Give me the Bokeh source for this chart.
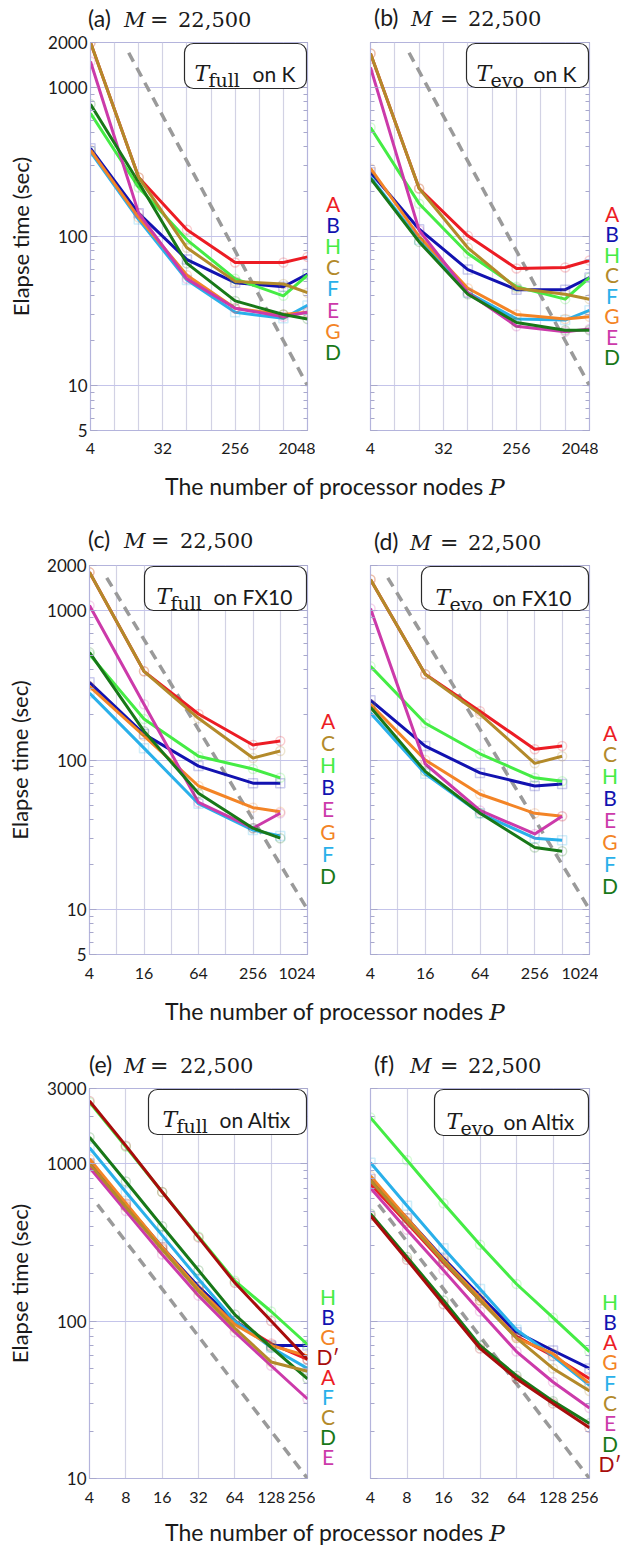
from bokeh.plotting import figure
from bokeh.models import (Range1d, FixedTicker, LogAxis, Label, BoxAnnotation, Div,
                          PrintfTickFormatter, CustomLabelingPolicy)
from bokeh.layouts import column, row
from bokeh.embed import file_html
from bokeh.resources import INLINE

# ---------------- data ----------------
P_K = [4, 16, 64, 256, 1024, 2048]
P_FX10 = [4, 16, 64, 256, 512]
P_ALTIX = [4, 8, 16, 32, 64, 128, 256]

# (a) T_full on K
a_A = [2000, 249, 111, 67, 67, 73]
a_B = [390, 143, 70, 49, 46, 56]
a_C = [2000, 249, 84, 50, 48, 42]
a_D = [770, 230, 66, 37, 30, 28]
a_E = [1490, 143, 52, 33, 29, 31]
a_F = [370, 130, 51, 31, 28.3, 34.5]
a_G = [380, 134, 55, 33, 30, 31]
a_H = [670, 213, 95, 52, 40, 55]

# (b) T_evo on K
b_A = [1690, 210, 101, 61, 62, 69]
b_B = [270, 112, 60, 44, 44, 53]
b_C = [1690, 210, 84, 45, 41, 38]
b_D = [245, 92, 41, 26.5, 23.5, 23.5]
b_E = [1360, 110, 42, 25, 23, 24]
b_F = [250, 95, 42, 28, 27.5, 32]
b_G = [286, 100, 45, 30, 28, 29]
b_H = [538, 166, 77, 46, 38, 53]

# (c) T_full on FX10
c_A = [1800, 392, 203, 126, 134]
c_B = [331, 149, 91, 70, 70]
c_C = [1800, 392, 190, 103, 115]
c_D = [525, 156, 60, 35, 30]
c_E = [1080, 236, 52, 35, 44]
c_F = [280, 120, 51, 34, 31]
c_G = [311, 145, 67, 48, 45]
c_H = [509, 188, 106, 87, 76]

# (d) T_evo on FX10
d_A = [1610, 374, 212, 118, 124]
d_B = [251, 124, 82, 67, 69]
d_C = [1610, 374, 203, 95, 106]
d_D = [225, 84, 44, 26, 24.5]
d_E = [1030, 94, 46, 32, 42]
d_F = [206, 81, 44, 30, 29]
d_G = [236, 100, 59, 44, 42]
d_H = [423, 176, 110, 76, 72]

# (e) T_full on Altix
e_A = [1000, 540, 290, 165, 100, 72, 57]
e_B = [1000, 550, 295, 165, 100, 70, 70]
e_C = [1000, 530, 285, 155, 90, 55, 48]
e_D = [1470, 770, 400, 210, 110, 68, 43]
e_E = [945, 500, 265, 145, 85, 52, 32]
e_F = [1260, 660, 350, 185, 100, 68, 50]
e_G = [1070, 560, 295, 160, 95, 70, 60]
e_H = [2450, 1280, 660, 345, 180, 115, 71]
e_Dp = [2500, 1300, 660, 340, 175, 100, 57]

# (f) T_evo on Altix
f_A = [740, 420, 235, 135, 80, 60, 43]
f_B = [800, 450, 250, 145, 85, 65, 50]
f_C = [780, 430, 240, 135, 78, 50, 36]
f_D = [480, 255, 135, 70, 45, 31, 22.4]
f_E = [700, 380, 210, 115, 64, 41, 28]
f_F = [1014, 540, 290, 160, 88, 60, 39]
f_G = [835, 450, 245, 140, 78, 62, 40]
f_H = [1960, 1050, 560, 305, 172, 105, 64]
f_Dp = [466, 245, 128, 67, 43, 30, 21]

# ideal-scaling (dashed) reference lines
ideal_K_P = [12, 2048]
ideal_K_T = [1707, 10]
ideal_FX_P = [6.2, 1024]
ideal_FX_T = [1652, 10]
ideal_ALT_P = [4.66, 256]
ideal_ALT_T = [549, 10]

# tick labels
xt_K = [4, 32, 256, 2048]
xg_K = [4, 8, 16, 32, 64, 128, 256, 512, 1024, 2048]
xt_FX = [4, 16, 64, 256, 1024]
xg_FX = [4, 8, 16, 32, 64, 128, 256, 512, 1024]
xt_ALT = [4, 8, 16, 32, 64, 128, 256]
yt_KFX = [5, 10, 100, 1000, 2000]
yt_ALT = [10, 100, 1000, 3000]

# legend order (top to bottom) per panel
leg_a = ["A", "B", "H", "C", "F", "E", "G", "D"]
leg_b = ["A", "B", "H", "C", "F", "G", "E", "D"]
leg_c = ["A", "C", "H", "B", "E", "G", "F", "D"]
leg_d = ["A", "C", "H", "B", "E", "G", "F", "D"]
leg_e = ["H", "B", "G", "Dp", "A", "F", "C", "D", "E"]
leg_f = ["H", "B", "A", "G", "F", "C", "E", "D", "Dp"]

# ---------------- style ----------------
SANS = "Lato"
MATH = "DejaVu Serif"
COLORS = {"A": "#ec1c24", "B": "#1212b0", "C": "#b38a2a", "D": "#187818", "E": "#cc3aaa",
          "F": "#2ab0ea", "G": "#f38426", "H": "#45ec45", "Dp": "#a80c0c"}
MARK = {"A": "circle", "B": "square", "C": "circle", "D": "circle", "E": "circle",
        "F": "square", "G": "circle", "H": "circle", "Dp": "circle"}
NAMES = {"Dp": "D\u2032"}
FRAME = "#b4b4dc"
GRID_V = "#d2d2e4"
GRID_H = "#c4c4ea"
TICK = "#a8a8cc"
TXT = "#1a1a1a"

HIDE = CustomLabelingPolicy(code="for (const i of indices) { indices.unset(i) }\nreturn indices")


def minor_list(lo, hi):
    out = []
    dec = 1
    while dec < hi * 10:
        for k in range(2, 10):
            v = k * dec
            if lo <= v <= hi:
                out.append(v)
        dec *= 10
    return out


def add_label(p, fr, rx, ry, text, font, size, color=TXT, style="normal"):
    p.add_layout(Label(x=rx - fr[0], y=fr[3] - ry, x_units="screen", y_units="screen",
                       text=text, text_font=font, text_font_size=f"{size}px",
                       text_color=color, text_font_style=style,
                       text_align="left", text_baseline="alphabetic"))


def panel(cfg):
    fr = cfg["frame"]
    ox, oy = cfg["origin"]
    W, H = cfg["size"]
    p = figure(width=W, height=H, x_axis_type="log", y_axis_type="log",
               x_range=Range1d(*cfg["xr"]), y_range=Range1d(*cfg["yr"]),
               output_backend="svg", toolbar_location=None,
               min_border=0,
               min_border_left=fr[0] - ox, min_border_top=fr[1] - oy,
               min_border_right=ox + W - fr[2], min_border_bottom=oy + H - fr[3])
    p.outline_line_color = FRAME
    p.outline_line_width = 1.2
    p.background_fill_color = "white"
    p.border_fill_color = "white"

    # x axis
    xa = p.xaxis[0]
    xa.ticker = FixedTicker(ticks=cfg["xt"], minor_ticks=[])
    xa.formatter = PrintfTickFormatter(format="%d")
    xa.major_label_text_font = SANS
    xa.major_label_text_font_size = "16px"
    xa.major_label_text_color = TXT
    xa.axis_line_color = FRAME
    xa.major_tick_in = 0
    xa.major_tick_out = 0
    xa.minor_tick_in = 0
    xa.minor_tick_out = 0
    xa.major_label_standoff = cfg["xstandoff"]
    p.xgrid.ticker = FixedTicker(ticks=cfg["xg"])
    p.xgrid.grid_line_color = GRID_V
    p.xgrid.grid_line_width = 1.2

    # y axis
    ya = p.yaxis[0]
    ya.ticker = FixedTicker(ticks=cfg["yt"], minor_ticks=minor_list(cfg["yr"][0], cfg["yr"][1]))
    ya.formatter = PrintfTickFormatter(format="%d")
    ya.axis_line_color = FRAME
    ya.major_tick_in = 7
    ya.major_tick_out = 0
    ya.minor_tick_in = 4
    ya.minor_tick_out = 0
    ya.major_tick_line_color = TICK
    ya.minor_tick_line_color = TICK
    if cfg["ylabels"]:
        ya.major_label_text_font = SANS
        ya.major_label_text_font_size = "17px"
        ya.major_label_text_color = TXT
        ya.major_label_standoff = 3
        ya.axis_label = "Elapse time (sec)"
        ya.axis_label_text_font = SANS
        ya.axis_label_text_font_size = "22px"
        ya.axis_label_text_font_style = "normal"
        ya.axis_label_text_color = TXT
        ya.axis_label_standoff = 11
    else:
        ya.major_label_policy = HIDE
        ya.major_label_text_font_size = "1px"
        ya.major_label_standoff = 0
    p.ygrid.ticker = FixedTicker(ticks=[10, 100, 1000])
    p.ygrid.grid_line_color = GRID_H
    p.ygrid.grid_line_width = 1.2

    ra = LogAxis(ticker=FixedTicker(ticks=cfg["yt"], minor_ticks=minor_list(cfg["yr"][0], cfg["yr"][1])),
                 major_label_policy=HIDE, major_label_text_font_size="1px", major_label_standoff=0,
                 axis_line_color=None, major_tick_in=7, major_tick_out=0,
                 minor_tick_in=4, minor_tick_out=0,
                 major_tick_line_color=TICK, minor_tick_line_color=TICK)
    p.add_layout(ra, "right")

    # ideal scaling line
    p.line(cfg["ideal"][0], cfg["ideal"][1], line_color="#9a9a9a", line_width=3.5, line_dash="10 7")

    # data
    P = cfg["P"]
    for key in ["A", "B", "H", "F", "G", "E", "D", "C", "Dp"]:
        if key not in cfg["series"]:
            continue
        vals = cfg["series"][key]
        c = COLORS[key]
        p.scatter(P, vals, marker=MARK[key], size=9, fill_color=None, line_color=c,
                  line_alpha=0.22, line_width=1.5)
        p.line(P, vals, line_color=c, line_width=3, line_join="round")

    # rounded box with label (kept inside the frame)
    bx0, by0, bx1, by1 = cfg["box"]
    p.add_layout(BoxAnnotation(left=bx0 - fr[0], right=bx1 - fr[0], top=fr[3] - by0, bottom=fr[3] - by1,
                               left_units="screen", right_units="screen",
                               top_units="screen", bottom_units="screen",
                               fill_color="white", fill_alpha=1.0, line_color="#2a2a2a",
                               line_width=1.2, line_alpha=1.0, border_radius=9))
    bb = cfg["box_base"]
    t_x, s_txt, s_x, o_txt, o_x = cfg["box_text"]
    add_label(p, fr, t_x, bb, "T", MATH, 22, style="italic")
    add_label(p, fr, s_x, bb + 6, s_txt, MATH, 19)
    add_label(p, fr, o_x, bb, o_txt, SANS, 21)
    return p


def svg_div(width, height, body):
    html = (f'<svg xmlns="http://www.w3.org/2000/svg" width="{width}" height="{height}" '
            f'style="display:block;overflow:visible">{body}</svg>')
    return Div(text=html, width=width, height=height, margin=(0, 0, 0, 0))


def st(font, size, extra=""):
    return f"font-family:'{font}';font-size:{size}px;{extra}"


def title_div(height, parts):
    # parts: list of (letter, baseline, x_paren, x_M, x_eq, x_num)
    body = ""
    for letter, bl, xp, xm, xe, xn in parts:
        body += (f'<text x="{xp}" y="{bl}" fill="{TXT}" style="{st(SANS, 23)}">({letter})</text>'
                 f'<text x="{xm}" y="{bl}" fill="{TXT}" style="{st(MATH, 21, "font-style:italic;")}">M</text>'
                 f'<text x="{xe}" y="{bl}" fill="{TXT}" style="{st(MATH, 22)}">=</text>'
                 f'<text x="{xn}" y="{bl}" fill="{TXT}" style="{st(MATH, 21)}">22,500</text>')
    return svg_div(629, height, body)


def legend_div(width, height, keys, cx, y0, step):
    body = ""
    for i, key in enumerate(keys):
        yb = y0 + i * step + 7.5
        body += (f'<text x="{cx}" y="{yb:.1f}" text-anchor="middle" fill="{COLORS[key]}" '
                 f'style="{st(SANS, 21)}">{NAMES.get(key, key)}</text>')
    return svg_div(width, height, body)


def xtitle_div(height, base):
    body = (f'<text x="165" y="{base}" fill="{TXT}" style="{st(SANS, 23)}">'
            f'The number of processor nodes '
            f'<tspan style="{st(MATH, 23, "font-style:italic;")}">P</tspan></text>')
    return svg_div(629, height, body)


# figure rows: left fig x 0..315, legend 315..345, right fig 345..598, legend 598..629
T1_H = 32
ROW1_TOP, ROW1_H = 32, 438
T2_H = 50
ROW2_TOP, ROW2_H = 555, 440
T3_H = 48
ROW3_TOP, ROW3_H = 1078, 437

cfgs = {
    "a": dict(frame=(90, 42, 307, 430), origin=(0, ROW1_TOP), size=(315, ROW1_H), xr=(4, 2048), yr=(5, 2000),
              xt=xt_K, xg=xg_K, yt=yt_KFX, ylabels=True, xstandoff=12, P=P_K,
              series={"A": a_A, "B": a_B, "C": a_C, "D": a_D, "E": a_E, "F": a_F, "G": a_G, "H": a_H},
              ideal=(ideal_K_P, ideal_K_T),
              box=(184, 43, 306, 88), box_base=73, box_text=(194, "full", 208, "on K", 252)),
    "b": dict(frame=(370, 42, 589, 430), origin=(345, ROW1_TOP), size=(253, ROW1_H), xr=(4, 2048), yr=(5, 2000),
              xt=xt_K, xg=xg_K, yt=yt_KFX, ylabels=False, xstandoff=12, P=P_K,
              series={"A": b_A, "B": b_B, "C": b_C, "D": b_D, "E": b_E, "F": b_F, "G": b_G, "H": b_H},
              ideal=(ideal_K_P, ideal_K_T),
              box=(466, 43, 588, 87), box_base=73, box_text=(476, "evo", 490, "on K", 533)),
    "c": dict(frame=(89, 565, 307, 954), origin=(0, ROW2_TOP), size=(315, ROW2_H), xr=(4, 1024), yr=(5, 2000),
              xt=xt_FX, xg=xg_FX, yt=yt_KFX, ylabels=True, xstandoff=13, P=P_FX10,
              series={"A": c_A, "B": c_B, "C": c_C, "D": c_D, "E": c_E, "F": c_F, "G": c_G, "H": c_H},
              ideal=(ideal_FX_P, ideal_FX_T),
              box=(144, 566, 306, 610), box_base=596, box_text=(156, "full", 170, "on FX10", 213)),
    "d": dict(frame=(370, 565, 589, 954), origin=(345, ROW2_TOP), size=(253, ROW2_H), xr=(4, 1024), yr=(5, 2000),
              xt=xt_FX, xg=xg_FX, yt=yt_KFX, ylabels=False, xstandoff=13, P=P_FX10,
              series={"A": d_A, "B": d_B, "C": d_C, "D": d_D, "E": d_E, "F": d_F, "G": d_G, "H": d_H},
              ideal=(ideal_FX_P, ideal_FX_T),
              box=(421, 566, 588, 610), box_base=597, box_text=(435, "evo", 449, "on FX10", 492)),
    "e": dict(frame=(89, 1088, 307, 1478), origin=(0, ROW3_TOP), size=(315, ROW3_H), xr=(4, 256), yr=(10, 3000),
              xt=xt_ALT, xg=xt_ALT, yt=yt_ALT, ylabels=True, xstandoff=13, P=P_ALTIX,
              series={"A": e_A, "B": e_B, "C": e_C, "D": e_D, "E": e_E, "F": e_F, "G": e_G, "H": e_H, "Dp": e_Dp},
              ideal=(ideal_ALT_P, ideal_ALT_T),
              box=(148, 1089, 306, 1134), box_base=1119, box_text=(162, "full", 176, "on Altix", 219)),
    "f": dict(frame=(370, 1088, 589, 1478), origin=(345, ROW3_TOP), size=(253, ROW3_H), xr=(4, 256), yr=(10, 3000),
              xt=xt_ALT, xg=xt_ALT, yt=yt_ALT, ylabels=False, xstandoff=13, P=P_ALTIX,
              series={"A": f_A, "B": f_B, "C": f_C, "D": f_D, "E": f_E, "F": f_F, "G": f_G, "H": f_H, "Dp": f_Dp},
              ideal=(ideal_ALT_P, ideal_ALT_T),
              box=(434, 1089, 588, 1135), box_base=1121, box_text=(446, "evo", 460, "on Altix", 503)),
}

figs = {k: panel(v) for k, v in cfgs.items()}

layout = column(
    title_div(T1_H, [("a", 27, 88, 124, 150, 178), ("b", 26, 374, 411, 440, 468)]),
    row(figs["a"], legend_div(30, ROW1_H, leg_a, 18, 204 - ROW1_TOP, 21.2),
        figs["b"], legend_div(31, ROW1_H, leg_b, 14, 214 - ROW1_TOP, 20.5), spacing=0),
    xtitle_div(35, 25),
    title_div(T2_H, [("c", 548 - 505, 88, 124, 151, 180), ("d", 550 - 505, 374, 410, 440, 468)]),
    row(figs["c"], legend_div(30, ROW2_H, leg_c, 13, 721 - ROW2_TOP, 22.2),
        figs["d"], legend_div(31, ROW2_H, leg_d, 12, 733 - ROW2_TOP, 21.9), spacing=0),
    xtitle_div(35, 25),
    title_div(T3_H, [("e", 1073 - 1030, 89, 124, 150, 180), ("f", 1073 - 1030, 374, 410, 440, 468)]),
    row(figs["e"], legend_div(30, ROW3_H, leg_e, 13, 1297 - ROW3_TOP, 20.1),
        figs["f"], legend_div(31, ROW3_H, leg_f, 12, 1302 - ROW3_TOP, 20.3), spacing=0),
    xtitle_div(31, 26),
    spacing=0,
)

open("out.html", "w").write(file_html(layout, INLINE))
